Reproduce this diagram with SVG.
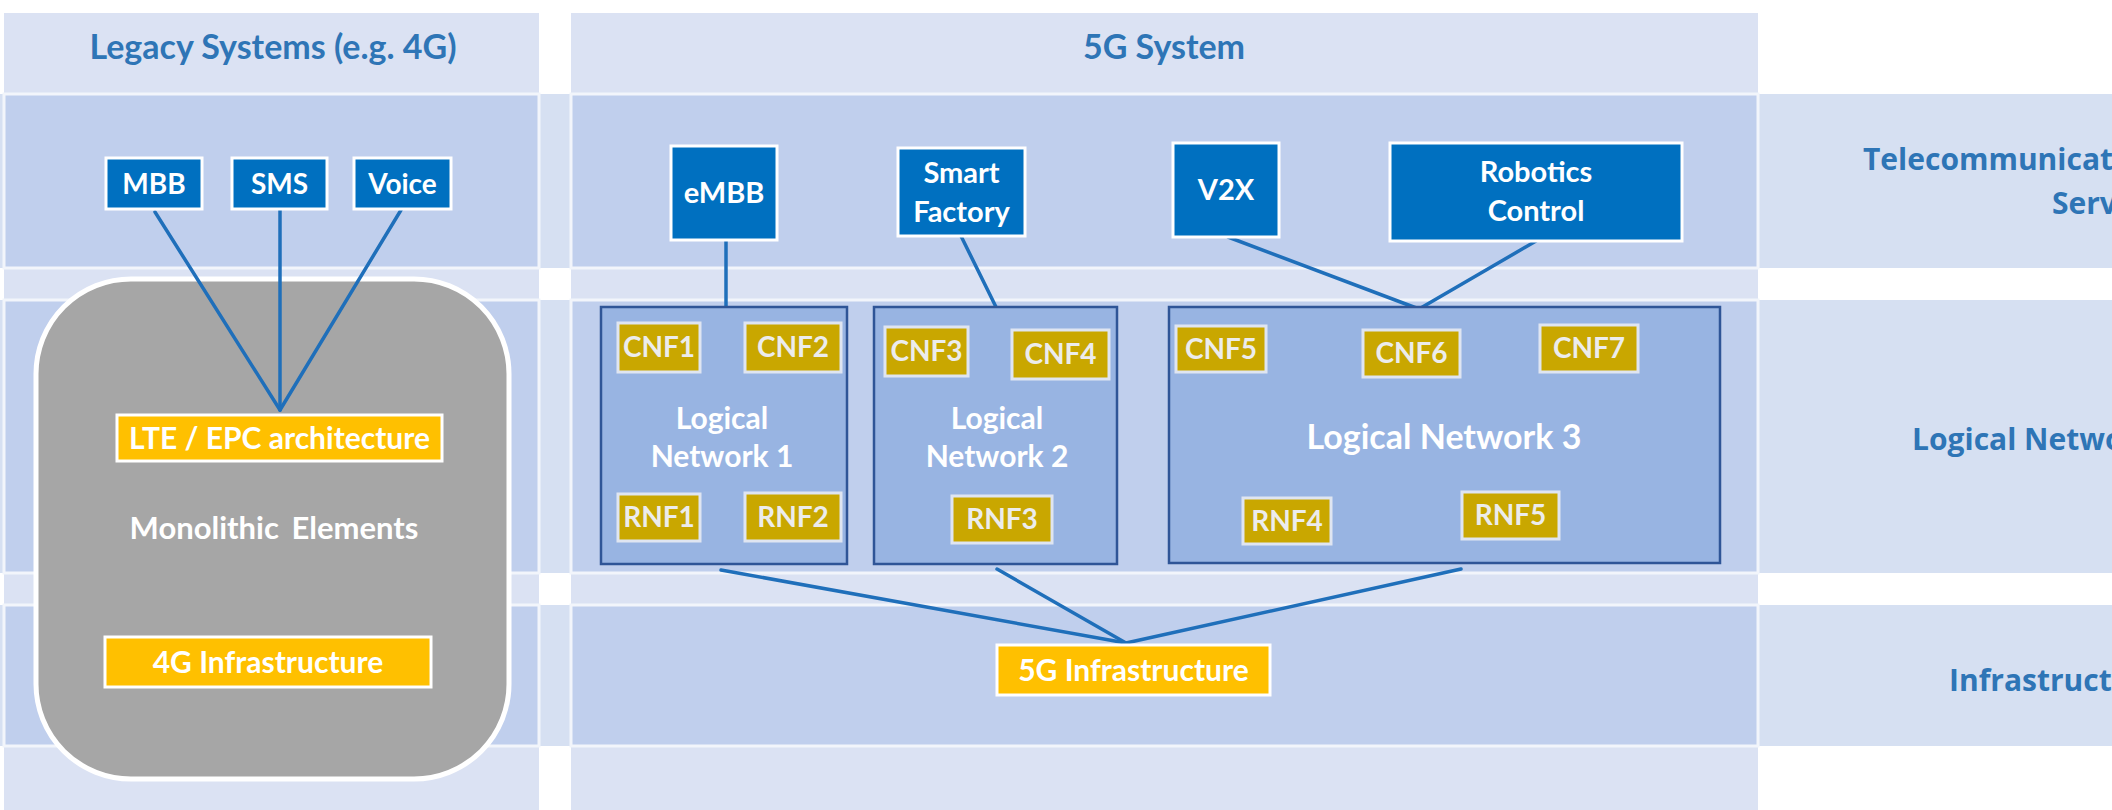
<svg xmlns="http://www.w3.org/2000/svg" width="2112" height="810" viewBox="0 0 2112 810">
<style>
.t{font-family:Lato,"Liberation Sans",sans-serif;font-weight:bold;text-anchor:middle}
.svc rect{fill:#0070c0;stroke:#fff;stroke-width:3}
.svc text{fill:#fff;font-size:29px}
.svc.sm text{font-size:28px}
.yel rect{fill:#ffc000;stroke:#fff;stroke-width:3}
.yel text{fill:#fff;font-size:30px}
.nf rect{fill:#c9a700;stroke:#dfe5f1;stroke-width:3}
.nf text{fill:#ececec;font-size:28px}
.ln>rect{fill:#98b4e2;stroke:#2f5597;stroke-width:2.5}
.ln>text{fill:#fff;font-size:30px}
.ln>text.big{font-size:34px}
.hdr{fill:#2e75b6;font-size:34px}
.lbl{font-family:"Open Sans","DejaVu Sans",sans-serif;font-weight:bold;fill:#2e75b6;font-size:30px}
.row{fill:#d6e0f2}
.col{fill:#dbe2f3}
.cell{fill:#c0cfed;stroke:#f2f5fb;stroke-width:3}
#connectors line{stroke:#1f6fba;stroke-width:3.5;stroke-linecap:round}
</style>

<!-- layer bands and system columns -->
<g id="background">
  <rect width="2112" height="810" fill="#fff"/>
  <rect class="row" x="0" y="94" width="2112" height="174"/>
  <rect class="row" x="0" y="300" width="2112" height="273"/>
  <rect class="row" x="0" y="605" width="2112" height="141"/>
  <rect class="col" x="4" y="13" width="535" height="797"/>
  <rect class="col" x="571" y="13" width="1187" height="797"/>
  <rect class="cell" x="4" y="94" width="535" height="174"/>
  <rect class="cell" x="4" y="300" width="535" height="273"/>
  <rect class="cell" x="4" y="605" width="535" height="141"/>
  <rect class="cell" x="571" y="94" width="1187" height="174"/>
  <rect class="cell" x="571" y="300" width="1187" height="273"/>
  <rect class="cell" x="571" y="605" width="1187" height="141"/>
</g>

<!-- column and layer headings -->
<g id="headings">
  <text class="t hdr" x="273" y="59">Legacy Systems (e.g. 4G)</text>
  <text class="t hdr" x="1164" y="59">5G System</text>
  <text class="lbl" x="1863" y="170">Telecommunication</text>
  <text class="lbl" x="2052" y="214">Services</text>
  <text class="lbl" x="1912" y="450">Logical Network</text>
  <text class="lbl" x="1949" y="691">Infrastructure</text>
</g>

<!-- legacy monolithic block -->
<g id="monolithic">
  <rect x="36" y="279" width="473" height="500" rx="95" ry="95" fill="#a6a6a6" stroke="#fff" stroke-width="5"/>
  <text class="t" x="274" y="539" fill="#fff" font-size="31" word-spacing="5">Monolithic Elements</text>
</g>

<g id="connectors">
  <line x1="155" y1="212" x2="280" y2="410"/>
  <line x1="280" y1="210" x2="280" y2="410"/>
  <line x1="401" y1="210" x2="280" y2="410"/>
  <line x1="726" y1="240" x2="726" y2="307"/>
  <line x1="961" y1="236" x2="997" y2="309"/>
  <line x1="1228" y1="237" x2="1419" y2="309"/>
  <line x1="1536" y1="241" x2="1419" y2="309"/>
  <line x1="721" y1="570" x2="1126" y2="643"/>
  <line x1="997" y1="569" x2="1126" y2="643"/>
  <line x1="1461" y1="569" x2="1126" y2="643"/>
</g>

<!-- legacy services -->
<g id="mbb" class="t svc sm"><rect x="106" y="158" width="96" height="51"/><text x="154" y="194">MBB</text></g>
<g id="sms" class="t svc sm"><rect x="232" y="158" width="95" height="51"/><text x="279.5" y="194">SMS</text></g>
<g id="voice" class="t svc sm"><rect x="354" y="158" width="97" height="51"/><text x="402.5" y="194">Voice</text></g>

<g id="lte-epc" class="t yel"><rect x="117" y="415" width="325" height="46"/><text x="279.5" y="449">LTE / EPC architecture</text></g>
<g id="infra-4g" class="t yel"><rect x="105" y="637" width="326" height="50"/><text x="268" y="673">4G Infrastructure</text></g>

<!-- 5G services -->
<g id="embb" class="t svc"><rect x="671" y="146" width="106" height="94"/><text x="724" y="203">eMBB</text></g>
<g id="smart-factory" class="t svc"><rect x="898" y="148" width="127" height="88"/><text x="961.5" y="183">Smart</text><text x="961.5" y="222">Factory</text></g>
<g id="v2x" class="t svc"><rect x="1173" y="143" width="106" height="94"/><text x="1226" y="200">V2X</text></g>
<g id="robotics" class="t svc"><rect x="1390" y="143" width="292" height="98"/><text x="1536" y="182">Robotics</text><text x="1536" y="221">Control</text></g>

<!-- logical networks -->
<g id="ln1" class="t ln">
  <rect x="601" y="307" width="246" height="257"/>
  <text x="722" y="429">Logical</text><text x="722" y="467">Network 1</text>
  <g class="nf"><rect x="618" y="323" width="82" height="49"/><text x="659" y="357">CNF1</text></g>
  <g class="nf"><rect x="745" y="323" width="96" height="49"/><text x="793" y="357">CNF2</text></g>
  <g class="nf"><rect x="618" y="494" width="82" height="47"/><text x="659" y="527">RNF1</text></g>
  <g class="nf"><rect x="745" y="493" width="96" height="48"/><text x="793" y="527">RNF2</text></g>
</g>
<g id="ln2" class="t ln">
  <rect x="874" y="307" width="243" height="257"/>
  <text x="997" y="429">Logical</text><text x="997" y="467">Network 2</text>
  <g class="nf"><rect x="885" y="327" width="83" height="49"/><text x="926.5" y="361">CNF3</text></g>
  <g class="nf"><rect x="1012" y="330" width="97" height="49"/><text x="1060.5" y="364">CNF4</text></g>
  <g class="nf"><rect x="952" y="496" width="100" height="47"/><text x="1002" y="529">RNF3</text></g>
</g>
<g id="ln3" class="t ln">
  <rect x="1169" y="307" width="551" height="256"/>
  <text class="big" x="1444" y="449">Logical Network 3</text>
  <g class="nf"><rect x="1176" y="326" width="90" height="46"/><text x="1221" y="359">CNF5</text></g>
  <g class="nf"><rect x="1363" y="330" width="97" height="47"/><text x="1411.5" y="363">CNF6</text></g>
  <g class="nf"><rect x="1540" y="325" width="98" height="47"/><text x="1589" y="358">CNF7</text></g>
  <g class="nf"><rect x="1243" y="498" width="88" height="46"/><text x="1287" y="531">RNF4</text></g>
  <g class="nf"><rect x="1462" y="492" width="97" height="47"/><text x="1510.5" y="525">RNF5</text></g>
</g>

<g id="infra-5g" class="t yel"><rect x="997" y="645" width="273" height="50"/><text x="1133.5" y="681">5G Infrastructure</text></g>
</svg>
